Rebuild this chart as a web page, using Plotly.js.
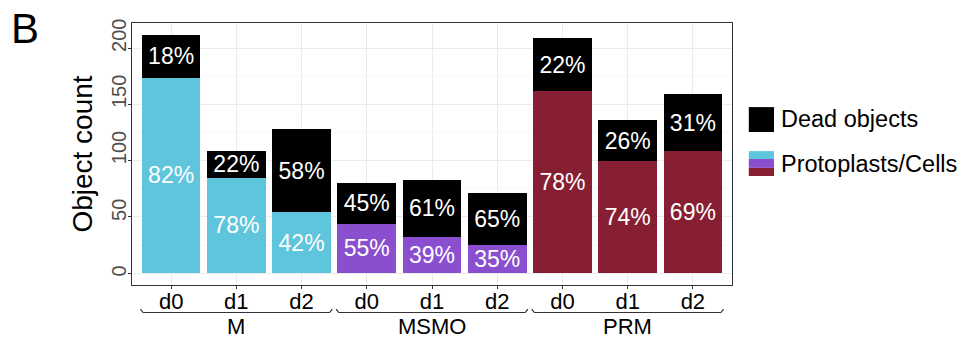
<!DOCTYPE html>
<html>
<head>
<meta charset="utf-8">
<script src="https://cdn.plot.ly/plotly-3.0.1.min.js"></script>
<style>
  html, body { margin: 0; padding: 0; background: #ffffff; }
  #chart { width: 959px; height: 337px; }
</style>
</head>
<body>
<div id="chart"></div>
<script>
// ---- Data ----
const groups = ['M', 'M', 'M', 'MSMO', 'MSMO', 'MSMO', 'PRM', 'PRM', 'PRM'];
const days = ['d0', 'd1', 'd2', 'd0', 'd1', 'd2', 'd0', 'd1', 'd2'];
const aliveCounts = [174, 85, 54, 44, 32, 25, 162, 100, 109];
const deadCounts = [38, 24, 74, 36, 51, 46, 47, 36, 50];
const alivePct = [82, 78, 42, 55, 39, 35, 78, 74, 69];
const deadPct = [18, 22, 58, 45, 61, 65, 22, 26, 31];
const groupNames = ['M', 'MSMO', 'PRM'];
const groupColors = {M: '#5FC5DD', MSMO: '#8A4FCE', PRM: '#871F33'};
const yTickValues = [0, 50, 100, 150, 200];
const yTickLabels = ['0', '50', '100', '150', '200'];
const legendLabels = ['Dead objects', 'Protoplasts/Cells'];

const FONT = 'Liberation Sans, Arial, sans-serif';

// ---- Build traces ----
const xPos = days.map((d, i) => i);
const barColors = groups.map(g => groupColors[g]);

const aliveTrace = {
  type: 'bar',
  name: legendLabels[1],
  x: xPos,
  y: aliveCounts,
  width: 0.9,
  marker: {color: barColors, line: {width: 0}},
  text: alivePct.map(p => p + '%'),
  textposition: 'inside',
  insidetextanchor: 'middle',
  textangle: 0,
  constraintext: 'none',
  textfont: {family: FONT, size: 23, color: '#ffffff'},
  hoverinfo: 'skip',
  showlegend: false
};
const deadTrace = {
  type: 'bar',
  name: legendLabels[0],
  x: xPos,
  y: deadCounts,
  width: 0.9,
  marker: {color: '#000000', line: {width: 0}},
  text: deadPct.map(p => p + '%'),
  textposition: 'inside',
  insidetextanchor: 'middle',
  textangle: 0,
  constraintext: 'none',
  textfont: {family: FONT, size: 23, color: '#ffffff'},
  hoverinfo: 'skip',
  showlegend: false
};

// ---- Annotations ----
const annotations = [];
// panel letter
annotations.push({
  text: 'B', xref: 'paper', yref: 'paper', x: -0.205, y: 0.978,
  xanchor: 'left', yanchor: 'middle', showarrow: false,
  font: {family: FONT, size: 42, color: '#000000'}
});
// y tick labels (rotated, reading upward from the tick)
yTickValues.forEach((v, i) => {
  annotations.push({
    text: yTickLabels[i], xref: 'paper', yref: 'y', x: 0.0, y: v,
    xanchor: 'right', yanchor: 'bottom', textangle: -90, showarrow: false,
    yshift: -6,
    font: {family: FONT, size: 20, color: '#4D4D4D'}
  });
});
// group labels and brackets
const shapes = [];
groupNames.forEach((g, gi) => {
  const idx = groups.map((gg, i) => gg === g ? i : -1).filter(i => i >= 0);
  const c = (idx[0] + idx[idx.length - 1]) / 2;
  annotations.push({
    text: g, xref: 'x', yref: 'paper', x: c, y: -0.157,
    xanchor: 'center', yanchor: 'middle', showarrow: false,
    font: {family: FONT, size: 22, color: '#000000'}
  });
  const x0 = c - 1.43, x1 = c + 1.43;
  const yl = -0.105, yu = -0.092;
  shapes.push({
    type: 'path', xref: 'x', yref: 'paper',
    path: `M ${x0 - 0.04} ${yu} L ${x0} ${yl} L ${x1} ${yl} L ${x1 + 0.04} ${yu}`,
    line: {color: '#333333', width: 1.2}
  });
});
// legend (manual, to reproduce the three-colour key)
shapes.push({type: 'rect', xref: 'paper', yref: 'paper', x0: 1.028, x1: 1.07, y0: 0.584, y1: 0.679,
  fillcolor: '#000000', line: {width: 0}});
const swY = [0.416, 0.447, 0.481, 0.511];
const swC = [groupColors.PRM, groupColors.MSMO, groupColors.M];
swC.forEach((col, i) => {
  shapes.push({type: 'rect', xref: 'paper', yref: 'paper', x0: 1.028, x1: 1.07, y0: swY[i], y1: swY[i + 1],
    fillcolor: col, line: {width: 0}});
});
annotations.push({
  text: legendLabels[0], xref: 'paper', yref: 'paper', x: 1.078, y: 0.632,
  xanchor: 'left', yanchor: 'middle', showarrow: false,
  font: {family: FONT, size: 23.5, color: '#000000'}
});
annotations.push({
  text: legendLabels[1], xref: 'paper', yref: 'paper', x: 1.078, y: 0.463,
  xanchor: 'left', yanchor: 'middle', showarrow: false,
  font: {family: FONT, size: 23.5, color: '#000000'}
});

const layout = {
  width: 959, height: 337,
  margin: {l: 132, r: 227, t: 23, b: 52, pad: 0},
  paper_bgcolor: '#ffffff', plot_bgcolor: '#ffffff',
  barmode: 'stack',
  bargap: 0.1,
  showlegend: false,
  font: {family: FONT, color: '#000000'},
  xaxis: {
    range: [-0.6, 8.6],
    tickmode: 'array', tickvals: xPos, ticktext: days,
    ticks: 'outside', ticklen: 3, tickwidth: 1, tickcolor: '#333333',
    ticklabelstandoff: -6,
    tickfont: {size: 22, color: '#000000'},
    showgrid: true, gridcolor: '#EBEBEB', gridwidth: 1,
    showline: true, mirror: true, linecolor: '#333333', linewidth: 1,
    zeroline: false, fixedrange: true
  },
  yaxis: {
    range: [-10.6, 222.6],
    tickmode: 'linear', tick0: 0, dtick: 50,
    ticks: 'outside', ticklen: 3, tickwidth: 1, tickcolor: '#333333',
    showticklabels: false,
    showgrid: true, gridcolor: '#EBEBEB', gridwidth: 1,
    minor: {dtick: 25, tick0: 0, showgrid: true, gridcolor: '#F2F2F2', gridwidth: 0.6, ticks: ''},
    showline: true, mirror: true, linecolor: '#333333', linewidth: 1,
    zeroline: false, fixedrange: true,
    title: {text: 'Object count', font: {size: 28, color: '#000000'}, standoff: 27}
  },
  annotations: annotations,
  shapes: shapes
};

Plotly.newPlot('chart', [aliveTrace, deadTrace], layout, {displayModeBar: false, staticPlot: true});
</script>
</body>
</html>
